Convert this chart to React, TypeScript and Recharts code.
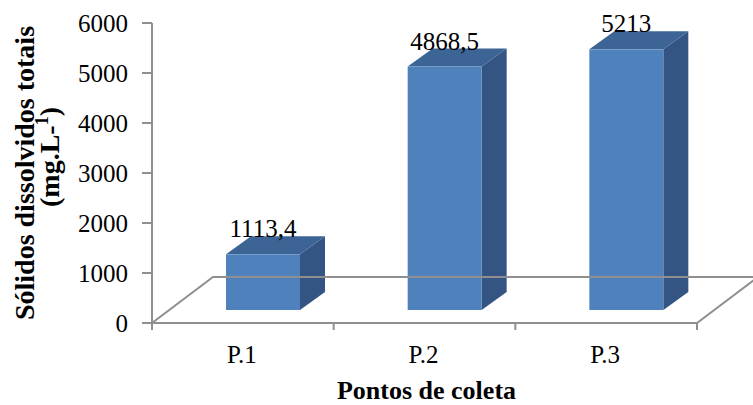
import React from 'react';
import { BarChart, Bar, XAxis, YAxis, ReferenceLine, LabelList } from 'recharts';

// Sampling points and total dissolved solids (mg/L)
const categories = ['P.1', 'P.2', 'P.3'];
const values = [1113.4, 4868.5, 5213];
const yTicks = [0, 1000, 2000, 3000, 4000, 5000, 6000];

const data = categories.map((name, i) => ({ name, value: values[i] }));

const FONT = "'Liberation Serif', 'Times New Roman', serif";
const FRONT = '#4F81BD';
const TOP = '#3C6494';
const SIDE = '#345584';
const FLOOR = '#8f8f8f';

// oblique projection used for the pseudo-3D look
const FLOOR_DX = 61;
const FLOOR_DY = 46;
const BAR_SHIFT_X = 20; // bars sit a bit into the floor depth
const BAR_SHIFT_Y = 13;
const BAR_DX = 25;
const BAR_DY = 18;

const formatValue = (v: number) => String(v).replace('.', ',');

const serif = { fontFamily: FONT };

// 3D box drawn from the bar rect the scale gives us
const Box3D = (props: any) => {
  const { x, y, width, height } = props;
  const fx = x + BAR_SHIFT_X;
  const fy = y - BAR_SHIFT_Y;
  const top = `${fx},${fy} ${fx + width},${fy} ${fx + width + BAR_DX},${fy - BAR_DY} ${fx + BAR_DX},${fy - BAR_DY}`;
  const side = `${fx + width},${fy} ${fx + width + BAR_DX},${fy - BAR_DY} ${fx + width + BAR_DX},${fy + height - BAR_DY} ${fx + width},${fy + height}`;
  return (
    <g>
      <polygon points={side} fill={SIDE} />
      <polygon points={top} fill={TOP} />
      <rect x={fx} y={fy} width={width} height={height} fill={FRONT} />
    </g>
  );
};

// floor parallelogram built on the zero line, with boundary ticks
const Floor = (props: any) => {
  const { x1, y1, x2 } = props;
  const y = y1;
  const n = categories.length;
  const step = (x2 - x1) / n;
  return (
    <g>
      <polyline
        points={`${x1},${y} ${x1 + FLOOR_DX},${y - FLOOR_DY} ${x2 + FLOOR_DX},${y - FLOOR_DY} ${x2},${y} ${x1},${y}`}
        fill="none"
        stroke={FLOOR}
        strokeWidth={2}
      />
      {Array.from({ length: n + 1 }).map((_, i) => (
        <line key={i} x1={x1 + i * step} y1={y} x2={x1 + i * step} y2={y + 7} stroke={FLOOR} strokeWidth={2} />
      ))}
    </g>
  );
};

const YTick = (props: any) => {
  const { x, y, payload } = props;
  return (
    <text x={x} y={y + 9} textAnchor="end" style={serif} fontSize={25} fill="#000">
      {payload.value}
    </text>
  );
};

const XTick = (props: any) => {
  const { x, y, payload } = props;
  return (
    <text x={x - 1} y={y + 17} textAnchor="middle" style={serif} fontSize={25} fill="#000">
      {payload.value}
    </text>
  );
};

const ValueLabel = (props: any) => {
  const { x, y, width, value } = props;
  return (
    <text
      x={x + BAR_SHIFT_X + width / 2}
      y={y - BAR_SHIFT_Y - BAR_DY + 1}
      textAnchor="middle"
      style={serif}
      fontSize={25}
      fill="#000"
    >
      {formatValue(value)}
    </text>
  );
};

const YTitle = (props: any) => {
  const { viewBox } = props;
  const cy = viewBox.y + viewBox.height / 2;
  const cy2 = cy - 16;
  return (
    <g style={serif} fontWeight="bold" fontSize={28} fill="#000">
      <text x={34} y={cy} textAnchor="middle" transform={`rotate(-90, 34, ${cy})`}>
        Sólidos dissolvidos totais
      </text>
      <text x={59} y={cy2} textAnchor="middle" transform={`rotate(-90, 59, ${cy2})`}>
        (mg.L-<tspan fontSize={18} dy={-11}>1</tspan>
        <tspan dy={11}>)</tspan>
      </text>
    </g>
  );
};

const XTitle = (props: any) => {
  const { viewBox } = props;
  return (
    <text
      x={viewBox.x + viewBox.width / 2 + 2}
      y={399}
      textAnchor="middle"
      style={serif}
      fontWeight="bold"
      fontSize={26}
      fill="#000"
    >
      Pontos de coleta
    </text>
  );
};

export default function App() {
  return (
    <div style={{ position: 'absolute', left: 0, top: 0, background: '#fff' }}>
      <BarChart
        width={753}
        height={405}
        data={data}
        margin={{ top: 23, right: 56, bottom: 0, left: 0 }}
        barSize={74}
      >
        <XAxis
          dataKey="name"
          height={82}
          axisLine={false}
          tickLine={false}
          tickSize={8}
          tickMargin={15}
          tick={<XTick />}
          label={<XTitle />}
        />
        <YAxis
          width={152}
          domain={[0, 6000]}
          ticks={yTicks}
          interval={0}
          tickSize={10}
          tickMargin={14}
          axisLine={{ stroke: FLOOR, strokeWidth: 2 }}
          tickLine={{ stroke: FLOOR, strokeWidth: 2 }}
          tick={<YTick />}
          label={<YTitle />}
        />
        <ReferenceLine y={0} shape={<Floor />} ifOverflow="visible" />
        <Bar dataKey="value" shape={<Box3D />} isAnimationActive={false}>
          <LabelList dataKey="value" content={<ValueLabel />} />
        </Bar>
      </BarChart>
    </div>
  );
}
